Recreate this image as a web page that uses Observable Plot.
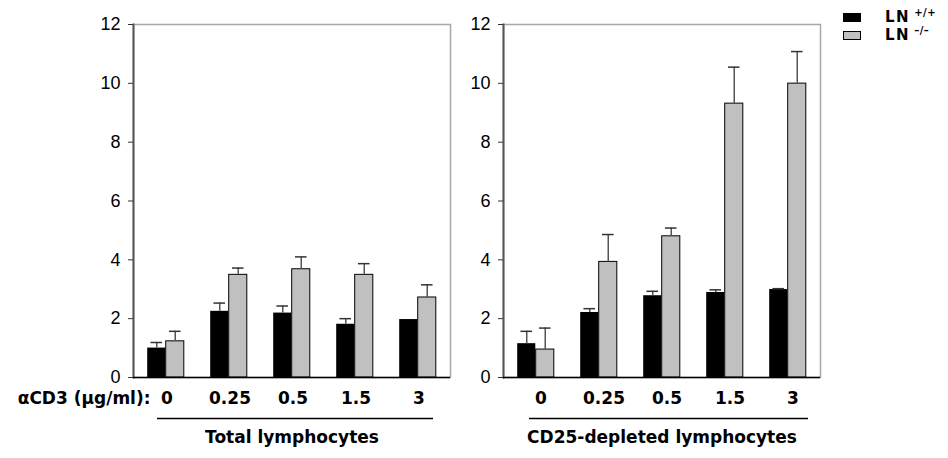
<!DOCTYPE html>
<html>
<head>
<meta charset="utf-8">
<script src="https://cdn.jsdelivr.net/npm/d3@7"></script>
<script src="https://cdn.jsdelivr.net/npm/@observablehq/plot@0.6"></script>
<style>
  html, body { margin: 0; padding: 0; background: #fff; }
  #wrap { position: relative; width: 948px; height: 458px; overflow: hidden; }
  #wrap > .panel { position: absolute; top: 0; }
  g[aria-label="panel-title"] text { letter-spacing: 0.8px; }
  g[aria-label="dose-label"] text { letter-spacing: 1px; }
  .leg { position: absolute; font-family: "DejaVu Sans", sans-serif; font-weight: bold; color: #000; }
  .sw { position: absolute; box-sizing: border-box; }
</style>
</head>
<body>
<div id="wrap"></div>
<script>
// ---- data ----
const doses = ["0", "0.25", "0.5", "1.5", "3"];
const genotypes = ["LN +/+", "LN –/–"];
const yTicks = [0, 2, 4, 6, 8, 10, 12];

const totalWT    = [1.00, 2.25, 2.19, 1.81, 1.97];
const totalWTErr = [0.19, 0.28, 0.24, 0.19, 0.00];
const totalKO    = [1.23, 3.49, 3.68, 3.49, 2.72];
const totalKOErr = [0.34, 0.23, 0.42, 0.38, 0.43];

const cd25WT    = [1.15, 2.21, 2.78, 2.89, 2.99];
const cd25WTErr = [0.42, 0.13, 0.15, 0.09, 0.03];
const cd25KO    = [0.95, 3.93, 4.80, 9.31, 9.99];
const cd25KOErr = [0.73, 0.93, 0.28, 1.24, 1.09];

const doseLabel = "αCD3 (μg/ml):";
const titles = ["Total lymphocytes", "CD25-depleted lymphocytes"];

// ---- panel builder ----
function panel({wt, wtErr, ko, koErr, width, ml, mr, title, ulLeft, ulRight, labelDx, showDoseLabel}) {
  const bw = (width - ml - mr) / doses.length;
  const half = bw / 2;
  const barW = 18.5;
  const capHalf = 6;
  const rowsWT = doses.map((d, i) => ({dose: d, v: wt[i], e: wtErr[i]}));
  const rowsKO = doses.map((d, i) => ({dose: d, v: ko[i], e: koErr[i]}));
  const errWT = rowsWT.filter(d => d.e > 0.01);
  const errKO = rowsKO.filter(d => d.e > 0.01);
  const bold = {fontFamily: "DejaVu Sans", fontWeight: "bold", fill: "#000"};
  const marks = [
    Plot.frame({stroke: "#a8a8a8", strokeWidth: 1.5}),
    Plot.barY(rowsWT, {x: "dose", y: "v", fill: "#000", insetLeft: half - barW, insetRight: half}),
    Plot.barY(rowsKO, {x: "dose", y: "v", fill: "#c0c0c0", stroke: "#000", strokeWidth: 1, insetLeft: half, insetRight: half - barW}),
    Plot.ruleX(errWT, {x: "dose", y1: "v", y2: d => d.v + d.e, dx: -barW / 2, stroke: "#555", strokeWidth: 1.5}),
    Plot.ruleX(errKO, {x: "dose", y1: "v", y2: d => d.v + d.e, dx: barW / 2, stroke: "#555", strokeWidth: 1.5}),
    Plot.tickY(errWT, {x: "dose", y: d => d.v + d.e, insetLeft: half - barW / 2 - capHalf, insetRight: half + barW / 2 - capHalf, stroke: "#333", strokeWidth: 1.5}),
    Plot.tickY(errKO, {x: "dose", y: d => d.v + d.e, insetLeft: half + barW / 2 - capHalf, insetRight: half - barW / 2 - capHalf, stroke: "#333", strokeWidth: 1.5}),
    Plot.frame({anchor: "left", stroke: "#555", strokeWidth: 2}),
    Plot.ruleY([0], {stroke: "#000", strokeWidth: 1.5}),
    Plot.axisY({ticks: yTicks, label: null, tickSize: 5, tickPadding: 8, fontSize: 18, fill: "#000", stroke: "#333"}),
    Plot.text(doses, {x: d => d, frameAnchor: "bottom", dy: 26, dx: labelDx, fontSize: 17, ...bold}),
    Plot.ruleY([0], {dy: 41, insetLeft: ulLeft, insetRight: ulRight, stroke: "#000", strokeWidth: 1.5}),
    Plot.text([title], {text: d => d, frameAnchor: "bottom", dy: 65, fontSize: 17, ariaLabel: "panel-title", ...bold})
  ];
  if (showDoseLabel) {
    marks.push(Plot.text([doseLabel], {text: d => d, frameAnchor: "bottom-left", textAnchor: "end", dx: 17, dy: 26, fontSize: 17, ariaLabel: "dose-label", ...bold}));
  }
  return Plot.plot({
    width, height: 458,
    marginLeft: ml, marginRight: mr, marginTop: 24, marginBottom: 81,
    style: {fontFamily: "'Liberation Sans', Arial, sans-serif", background: "transparent", overflow: "visible"},
    x: {type: "band", domain: doses, padding: 0, axis: null},
    y: {domain: [0, 12], axis: null},
    marks
  });
}

const wrap = document.getElementById("wrap");

const p1 = panel({wt: totalWT, wtErr: totalWTErr, ko: totalKO, koErr: totalKOErr,
  width: 460, ml: 133, mr: 10, title: titles[0], ulLeft: 24, ulRight: 17, labelDx: 1, showDoseLabel: true});
p1.classList.add("panel"); p1.style.left = "0px";
wrap.appendChild(p1);

const p2 = panel({wt: cd25WT, wtErr: cd25WTErr, ko: cd25KO, koErr: cd25KOErr,
  width: 488, ml: 43, mr: 128, title: titles[1], ulLeft: 26, ulRight: 12, labelDx: 5, showDoseLabel: false});
p2.classList.add("panel"); p2.style.left = "460px";
wrap.appendChild(p2);

// ---- legend ----
const legColors = ["#000", "#c0c0c0"];
const legSup = ["+/+", "–/–"];
genotypes.forEach((g, i) => {
  const top = 13 + i * 18;
  const sw = document.createElement("div");
  sw.className = "sw";
  sw.style.cssText = `left:843px;top:${top}px;width:18px;height:9px;background:${legColors[i]};border:1px solid #000;`;
  wrap.appendChild(sw);
  const t = document.createElement("div");
  t.className = "leg";
  t.style.cssText = `left:885px;top:${top - 5}px;font-size:15px;letter-spacing:1.5px;line-height:18px;white-space:nowrap;`;
  t.innerHTML = `LN<span style="font-size:10px;position:relative;top:-6px;margin-left:4px;letter-spacing:0.5px">${legSup[i]}</span>`;
  t.setAttribute("title", g);
  wrap.appendChild(t);
});
</script>
</body>
</html>
